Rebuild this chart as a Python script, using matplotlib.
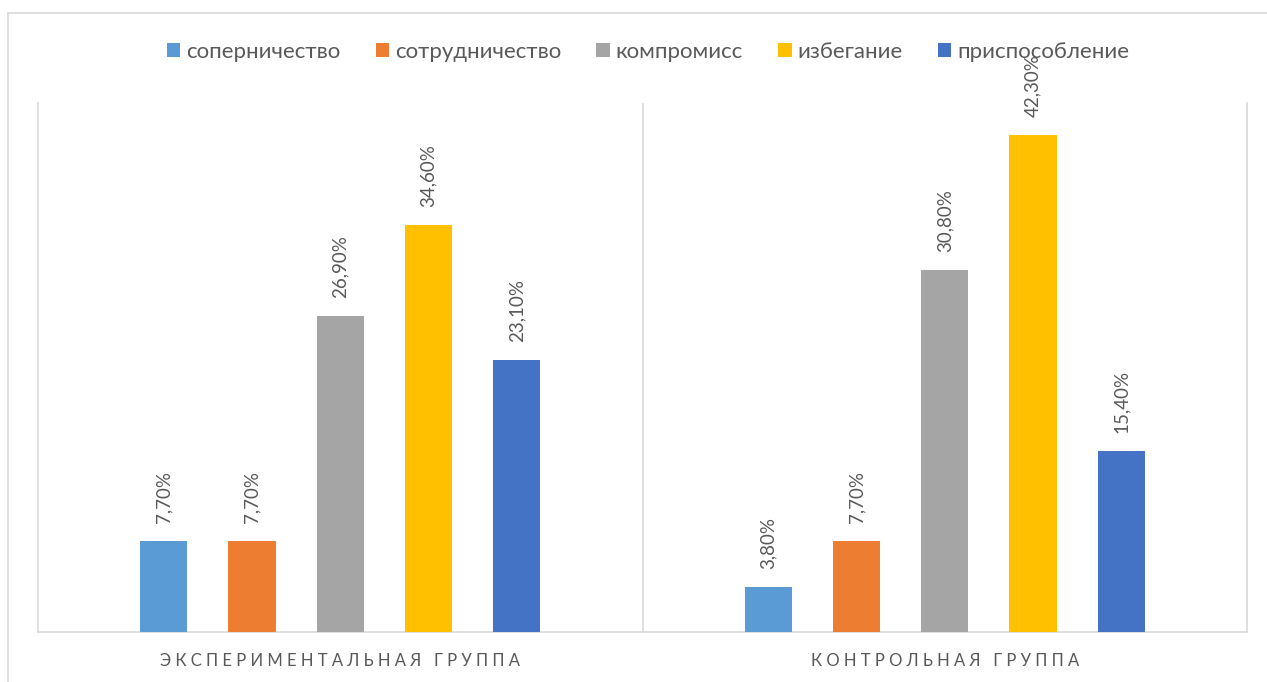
import matplotlib
matplotlib.use("Agg")
import matplotlib.pyplot as plt
from matplotlib.lines import Line2D
import numpy as np

groups = ["ЭКСПЕРИМЕНТАЛЬНАЯ ГРУППА", "КОНТРОЛЬНАЯ ГРУППА"]
styles = ["соперничество", "сотрудничество", "компромисс", "избегание", "приспособление"]
colors = ["#5B9BD5", "#ED7D31", "#A5A5A5", "#FFC000", "#4472C4"]
experimental = [7.7, 7.7, 26.9, 34.6, 23.1]
control = [3.8, 7.7, 30.8, 42.3, 15.4]

plt.rcParams["font.family"] = ["Lato", "DejaVu Sans"]

W, H = 1267, 682
fig = plt.figure(figsize=(W / 100, H / 100), dpi=100)
ax = fig.add_axes([38 / W, 1 - 632 / H, (1247 - 38) / W, (632 - 103) / H])

grid_col = "#D9D9D9"
text_col = "#595959"

pitch = 0.146
width = 0.078
x = np.arange(len(groups))
series = np.array([experimental, control])
for i, (name, col) in enumerate(zip(styles, colors)):
    xs = x + (i - 2) * pitch
    vals = series[:, i]
    ax.bar(xs, vals, width=width, color=col, label=name, zorder=3)
    for xi, v in zip(xs, vals):
        ax.annotate(f"{v:.2f}%".replace(".", ","), (xi, v), xytext=(0, 13),
                    textcoords="offset points", rotation=90, ha="center",
                    va="bottom", fontsize=13.5, color=text_col)

ax.set_xlim(-0.5, 1.5)
ax.set_ylim(0, 45)
ax.set_xticks([])
ax.set_yticks([])
ax.spines["top"].set_visible(False)
for side in ["left", "right", "bottom"]:
    ax.spines[side].set_color(grid_col)
    ax.spines[side].set_linewidth(1.2)
ax.axvline(0.5, color=grid_col, lw=1.2, zorder=1)

# spaced category captions under each group
for xi, g in zip(x, groups):
    spaced = "   ".join(" ".join(word) for word in g.split(" "))
    ax.text(xi, -29 / 11.69, spaced, ha="center", va="center",
            fontsize=12, color=text_col)

leg = fig.legend(loc="center", bbox_to_anchor=(648 / W, 1 - 52 / H), ncol=5,
                 frameon=False, fontsize=16, handlelength=0.6,
                 handleheight=0.6, handletextpad=0.25, columnspacing=1.6)
for t in leg.get_texts():
    t.set_color(text_col)

# outer chart frame
fig.add_artist(Line2D([8 / W, 1], [1 - 13 / H, 1 - 13 / H], color=grid_col, lw=1.2))
fig.add_artist(Line2D([8 / W, 8 / W], [0, 1 - 13 / H], color=grid_col, lw=1.2))

fig.savefig("out.png", dpi=100)
